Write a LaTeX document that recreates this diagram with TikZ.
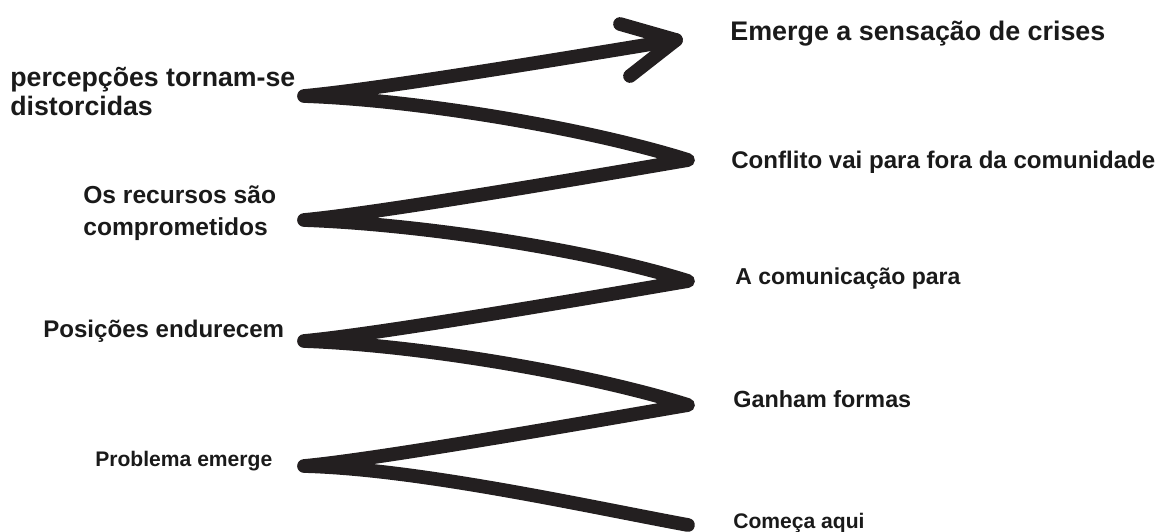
\documentclass[tikz,border=0pt]{standalone}
\usepackage{fontspec}
\setmainfont{Liberation Sans}

\definecolor{inkBlack}{HTML}{231F20}
\definecolor{textBlack}{HTML}{1A1A1A}

\tikzset{
    spiral/.style={inkBlack, line width=7.8pt, line cap=round, line join=round},
    stage/.style={text=textBlack, font=\bfseries, inner sep=0pt, anchor=base west, align=left}
}

\begin{document}
\begin{tikzpicture}[x=0.02cm, y=-0.02cm]
    \useasboundingbox (0,0) rectangle (1162,531);

    \coordinate (start) at (688,525);
    \coordinate (l1) at (304,466);
    \coordinate (r1) at (688,405);
    \coordinate (l2) at (304,341);
    \coordinate (r2) at (688,281);
    \coordinate (l3) at (304,220);
    \coordinate (r3) at (688,160);
    \coordinate (l4) at (304,96);
    \coordinate (tip) at (676,40);
    \coordinate (barbtop) at (620,24);
    \coordinate (barbbot) at (630,76);

    % the zigzag, from the bottom up
    \draw[spiral] (start) .. controls (590,507) and (420,469) .. (l1)
        .. controls (380,459) and (600,420) .. (r1)
        .. controls (590,374) and (420,345) .. (l2)
        .. controls (380,334) and (600,296) .. (r2)
        .. controls (590,250) and (420,224) .. (l3)
        .. controls (380,213) and (600,175) .. (r3)
        .. controls (590,129) and (420,100) .. (l4)
        .. controls (380,89) and (560,59) .. (tip);
    \draw[spiral] (barbtop) -- (tip) -- (barbbot);

    \node[stage, font=\bfseries\fontsize{15.3}{18}\selectfont] (crise) at (730,40) {Emerge a sensação de crises};
    \node[stage, font=\bfseries\fontsize{13.7}{16}\selectfont] (conflito) at (731,168) {Conflito vai para fora da comunidade};
    \node[stage, font=\bfseries\fontsize{13.1}{16}\selectfont] (comunicacao) at (735,284) {A comunicação para};
    \node[stage, font=\bfseries\fontsize{13.3}{16}\selectfont] (formas) at (733,407) {Ganham formas};
    \node[stage, font=\bfseries\fontsize{12}{14}\selectfont] (comeco) at (733,528) {Começa aqui};

    \node[stage, font=\bfseries\fontsize{15.2}{16.2}\selectfont] (percepcoes) at (10,115) {percepções tornam-se\\distorcidas};
    \node[stage, font=\bfseries\fontsize{14}{18.1}\selectfont] (recursos) at (83,235) {Os recursos são\\comprometidos};
    \node[stage, font=\bfseries\fontsize{13.7}{16}\selectfont] (posicoes) at (43,337) {Posições endurecem};
    \node[stage, font=\bfseries\fontsize{12}{14}\selectfont] (problema) at (95,466) {Problema emerge};
\end{tikzpicture}
\end{document}
